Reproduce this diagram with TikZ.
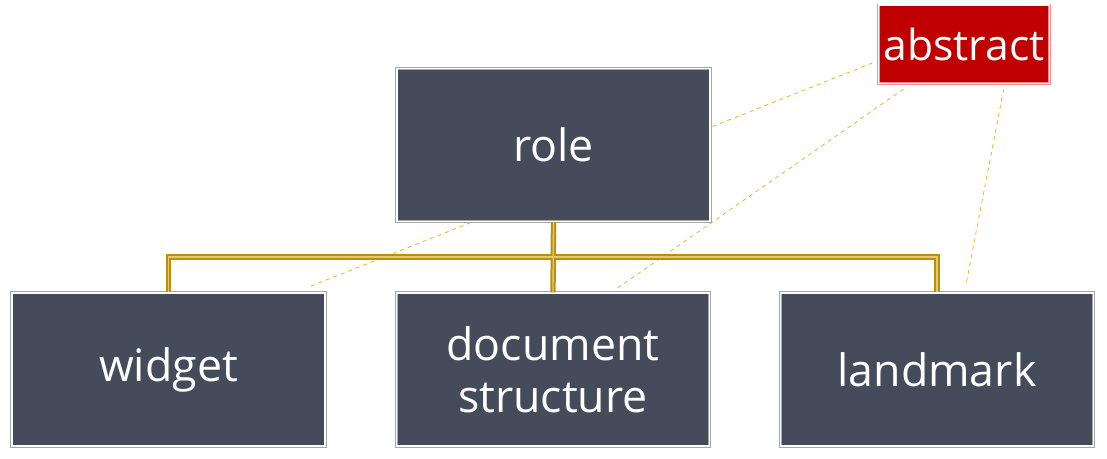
\documentclass[tikz,border=0pt]{standalone}
\usepackage{fontspec}
\setmainfont{Open Sans}
\usetikzlibrary{backgrounds}
\pgfdeclarelayer{paper}
\pgfsetlayers{paper,background,main}
\definecolor{slate}{HTML}{444B5B}
\definecolor{darkred}{HTML}{C00000}
\definecolor{gold}{HTML}{BF8F00}
\definecolor{lightgold}{HTML}{E3C77E}
\definecolor{dashorange}{HTML}{F2B31C}
\tikzset{
  rolebox/.style={fill=slate, draw=gray!70, double=white, double distance=1.2pt, line width=0.6pt,
    text=white, align=center, font=\fontsize{33.5}{39}\selectfont,
    minimum width=235pt, minimum height=115pt, inner sep=0pt},
  abstractbox/.style={fill=darkred, draw=red!45, double=white, double distance=1pt, line width=0.5pt,
    text=white, font=\fontsize{32}{39}\selectfont,
    minimum width=128pt, minimum height=59pt, inner sep=0pt},
  tree/.style={draw=gold, line width=4pt},
  treeedge/.style={draw=lightgold, line width=1pt},
  dashline/.style={draw=dashorange, line width=0.6pt, dash pattern=on 3pt off 3pt}
}
\begin{document}
\begin{tikzpicture}[x=0.75pt, y=-0.75pt]
    \begin{pgfonlayer}{paper}
        \fill[white] (0,0) rectangle (1107,459);
    \end{pgfonlayer}
    \useasboundingbox (0,0) rectangle (1107,459);

    % Kaesten
    \node[rolebox] (role) at (553.5,145) {role};
    \node[rolebox] (widget) at (168.5,369.5) {widget};
    \node[rolebox] (docstruct) at (553,369.5) {document\\structure};
    \node[rolebox] (landmark) at (937,369.5) {landmark};
    \node[abstractbox] (abstract) at (964,44.5) {abstract};

    % Baum
    \coordinate (j) at (553,257);
    \draw[tree] (role.south) -- (docstruct.north);
    \draw[tree] (widget.north) |- (landmark.north |- j) -- (landmark.north);
    \begin{scope}[shift={(-2,-2)}]
        \draw[treeedge] (role.south) -- (docstruct.north);
        \draw[treeedge] (widget.north) |- (landmark.north |- j) -- (landmark.north);
    \end{scope}

    % abstrakte Rollen
    \begin{scope}[on background layer]
        \draw[dashline] ([shift={(-6,18.5)}]abstract.west) -- ([shift={(-18,-5)}]widget.north east);
        \draw[dashline] ([shift={(25,5)}]abstract.south west) -- ([shift={(64,-4)}]docstruct.north);
        \draw[dashline] ([shift={(-46,5)}]abstract.south east) -- ([shift={(29,-8)}]landmark.north);
    \end{scope}
\end{tikzpicture}
\end{document}
